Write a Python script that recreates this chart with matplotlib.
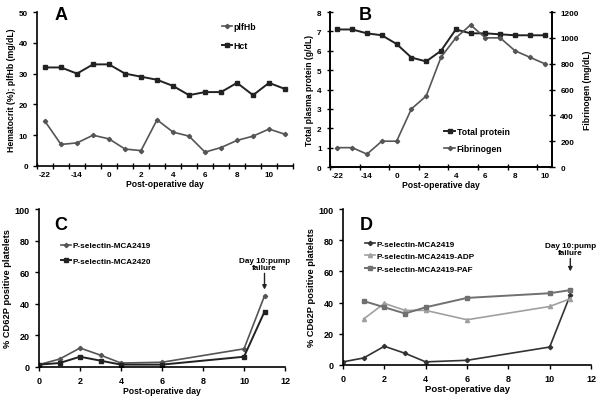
import matplotlib
matplotlib.use("Agg")
import matplotlib.pyplot as plt
import numpy as np

plt.rcParams['font.family'] = ['Liberation Sans', 'DejaVu Sans']
plt.rcParams['font.weight'] = 'bold'

# ---- Data ----
days_A = ['-22', '-18', '-14', '-7', '0', '1', '2', '3', '4', '5', '6', '7', '8', '9', '10', '11']
plfhb = [14.5, 7.0, 7.5, 10.0, 8.8, 5.5, 5.0, 15.0, 11.0, 9.7, 4.5, 6.0, 8.3, 9.7, 12.0, 10.3]
hct = [32, 32, 30, 33, 33, 30, 29, 28, 26, 23, 24, 24, 27, 23, 27, 25]
tick_labels_A = ['-22', '-14', '0', '2', '4', '6', '8', '10']

days_B = ['-22', '-18', '-14', '-7', '0', '1', '2', '3', '4', '5', '6', '7', '8', '9', '10']
total_protein = [7.1, 7.1, 6.9, 6.8, 6.35, 5.65, 5.45, 6.0, 7.1, 6.9, 6.9, 6.85, 6.8, 6.8, 6.8]
fibrinogen = [150, 150, 100, 200, 200, 450, 550, 850, 1000, 1100, 1000, 1000, 900, 850, 800]
tick_labels_B = ['-22', '-14', '0', '2', '4', '6', '8', '10']

days_C = [0, 1, 2, 3, 4, 6, 10, 11]
mca2419_C = [1.5, 5.0, 12.0, 7.5, 2.5, 3.0, 11.5, 45.0]
mca2420_C = [1.5, 2.5, 6.5, 4.0, 1.5, 1.5, 6.5, 35.0]

days_D = [0, 1, 2, 3, 4, 6, 10, 11]
mca2419_D = [2.0, 4.5, 12.0, 7.5, 2.0, 3.0, 11.5, 45.0]
days_D2 = [1, 2, 3, 4, 6, 10, 11]
adp_D = [29.5, 39.5, 35.0, 35.0, 29.0, 37.5, 42.5]
paf_D = [41.0, 37.0, 33.0, 37.0, 43.0, 46.0, 48.0]

TS = 5.9   # tick size
LS = 6.2   # label size
LG = 5.9   # legend size

fig = plt.figure(figsize=(6.0, 4.02), dpi=100)

def style(ax, right=False):
    for s in ['top'] + ([] if right else ['right']):
        ax.spines[s].set_visible(False)
    for s in ax.spines.values():
        s.set_linewidth(1.2)
    ax.tick_params(labelsize=TS, width=1.0, length=3)
    for lab in ax.get_xticklabels() + ax.get_yticklabels():
        lab.set_fontweight('bold')

# ---- Panel A ----
axA = fig.add_axes([0.0617, 0.5846, 0.4267, 0.383])
xA = np.arange(len(days_A))
axA.plot(xA, plfhb, color='#555555', lw=1.2, marker='D', ms=2.2, label='plfHb')
axA.plot(xA, hct, color='#222222', lw=1.4, marker='s', ms=3.5, label='Hct')
axA.set_xlim(-0.5, len(days_A) - 0.5)
axA.set_ylim(0, 50)
axA.set_yticks(range(0, 51, 10))
axA.set_xticks(xA[::2])
axA.set_xticklabels(tick_labels_A)
axA.set_xticks(np.arange(-0.5, len(days_A), 1), minor=True)
style(axA)
axA.tick_params(axis='x', which='major', length=0)
axA.tick_params(axis='x', which='minor', direction='inout', length=4, width=1.0)
axA.set_xlabel('Post-operative day', fontsize=LS, fontweight='bold', labelpad=1)
axA.set_ylabel('Hematocrit (%); plfHb (mg/dL)', fontsize=LS, fontweight='bold', labelpad=2)
axA.text(0.094, 0.985, 'A', transform=axA.transAxes, fontsize=13, fontweight='bold',
         ha='center', va='center')
axA.legend(loc='upper left', bbox_to_anchor=(0.69, 0.985), frameon=False,
           handlelength=1.2, handletextpad=0.2, labelspacing=1.15, prop={'weight': 'bold', 'size': LG + 0.4})

# ---- Panel B ----
axB = fig.add_axes([0.55, 0.582, 0.37, 0.3856])
xB = np.arange(len(days_B))
lp, = axB.plot(xB, total_protein, color='#222222', lw=1.4, marker='s', ms=3.5, label='Total protein')
axB.set_xlim(-0.5, len(days_B) - 0.5)
axB.set_ylim(0, 8)
axB.set_yticks(range(0, 9))
axB.set_xticks(xB[::2])
axB.set_xticklabels(tick_labels_B)
axB.set_xticks(np.arange(-0.5, len(days_B), 2), minor=True)
axB2 = axB.twinx()
lf, = axB2.plot(xB, fibrinogen, color='#555555', lw=1.2, marker='D', ms=2.2, label='Fibrinogen')
axB2.set_ylim(0, 1200)
axB2.set_yticks(range(0, 1201, 200))
style(axB, right=True)
style(axB2, right=True)
axB.tick_params(axis='x', which='major', length=0)
axB.tick_params(axis='x', which='minor', direction='inout', length=4, width=1.0)
axB2.tick_params(axis='y', direction='inout', length=5)
axB.tick_params(axis='y', direction='inout', length=5)
axB.set_xlabel('Post-operative day', fontsize=LS, fontweight='bold', labelpad=1)
axB.set_ylabel('Total plasma protein (g/dL)', fontsize=LS, fontweight='bold', labelpad=2)
axB2.set_ylabel('Fibrinogen (mg/dL)', fontsize=LS, fontweight='bold', labelpad=3)
axB.text(0.16, 0.985, 'B', transform=axB.transAxes, fontsize=13, fontweight='bold',
         ha='center', va='center')
axB.legend([lp, lf], ['Total protein', 'Fibrinogen'], loc='upper left', bbox_to_anchor=(0.48, 0.31),
           frameon=False, handlelength=1.2, handletextpad=0.2, labelspacing=0.9,
           prop={'weight': 'bold', 'size': LG + 0.4})

# ---- Panel C ----
axC = fig.add_axes([0.065, 0.0846, 0.41, 0.393])
axC.plot(days_C, mca2419_C, color='#555555', lw=1.2, marker='D', ms=2.2, label='P-selectin-MCA2419')
axC.plot(days_C, mca2420_C, color='#222222', lw=1.4, marker='s', ms=3.5, label='P-selectin-MCA2420')
axC.set_xlim(0, 12)
axC.set_ylim(0, 100)
axC.set_xticks(range(0, 13, 2))
axC.set_yticks(range(0, 101, 20))
style(axC)
axC.tick_params(labelsize=TS + 0.6)
axC.set_xlabel('Post-operative day', fontsize=LS, fontweight='bold', labelpad=1)
axC.set_ylabel('% CD62P positive platelets', fontsize=LS + 0.5, fontweight='bold', labelpad=2)
axC.text(0.09, 0.90, 'C', transform=axC.transAxes, fontsize=13, fontweight='bold',
         ha='center', va='center')
axC.legend(loc='upper left', bbox_to_anchor=(0.06, 0.84), frameon=False,
           handlelength=1.2, handletextpad=0.2, labelspacing=1.0,
           prop={'weight': 'bold', 'size': LG})
axC.annotate('Day 10:pump\nfailure', xy=(11, 49), xytext=(11, 61), ha='center', va='bottom',
             fontsize=TS, fontweight='bold', linespacing=1.0,
             arrowprops=dict(arrowstyle='-|>', color='#222222', lw=1.0, mutation_scale=6, shrinkA=0, shrinkB=0))

# ---- Panel D ----
axD = fig.add_axes([0.5717, 0.0896, 0.4133, 0.388])
axD.plot(days_D, mca2419_D, color='#333333', lw=1.2, marker='D', ms=2.2, label='P-selectin-MCA2419')
axD.plot(days_D2, adp_D, color='#a0a0a0', lw=1.2, marker='^', ms=3.0, label='P-selectin-MCA2419-ADP')
axD.plot(days_D2, paf_D, color='#707070', lw=1.4, marker='s', ms=3.5, label='P-selectin-MCA2419-PAF')
axD.set_xlim(0, 12)
axD.set_ylim(0, 100)
axD.set_xticks(range(0, 13, 2))
axD.set_yticks(range(0, 101, 20))
style(axD)
axD.tick_params(labelsize=TS + 0.6)
axD.set_xlabel('Post-operative day', fontsize=LS + 0.6, fontweight='bold', labelpad=1)
axD.set_ylabel('% CD62P positive platelets', fontsize=LS + 0.5, fontweight='bold', labelpad=2)
axD.text(0.093, 0.90, 'D', transform=axD.transAxes, fontsize=13, fontweight='bold',
         ha='center', va='center')
axD.legend(loc='upper left', bbox_to_anchor=(0.06, 0.85), frameon=False,
           handlelength=1.2, handletextpad=0.2, labelspacing=0.6,
           prop={'weight': 'bold', 'size': LG})
axD.annotate('Day 10:pump\nfailure', xy=(11, 60), xytext=(11, 70), ha='center', va='bottom',
             fontsize=TS, fontweight='bold', linespacing=1.0,
             arrowprops=dict(arrowstyle='-|>', color='#222222', lw=1.0, mutation_scale=6, shrinkA=0, shrinkB=0))

fig.savefig('out.png', dpi=100)
